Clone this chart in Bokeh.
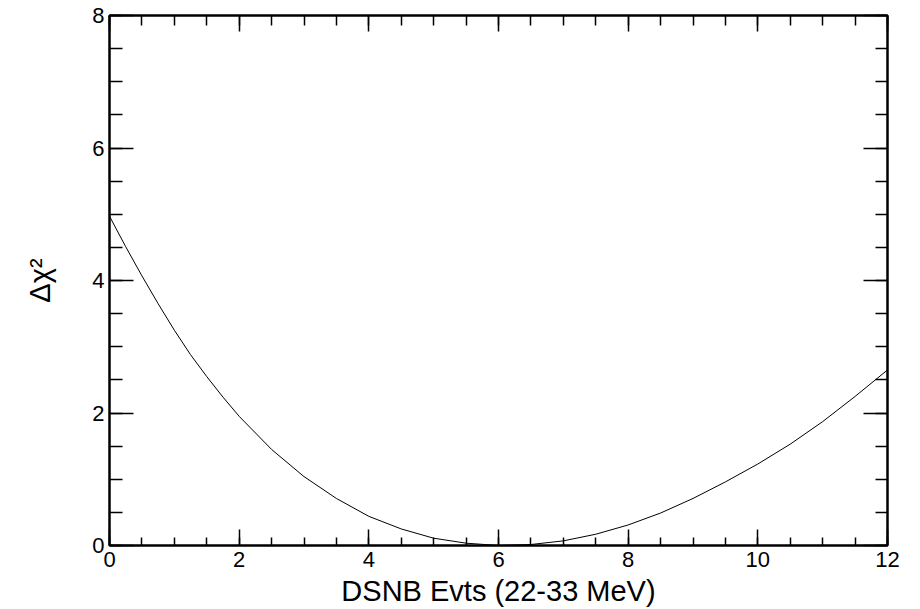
from bokeh.plotting import figure
from bokeh.models import Range1d, LinearAxis, FixedTicker
from bokeh.embed import file_html
from bokeh.resources import INLINE

# Data
dsnb_events = [0.0, 0.25, 0.5, 0.75, 1.0, 1.25, 1.5, 1.75, 2.0, 2.5, 3.0, 3.5, 4.0,
               4.5, 5.0, 5.5, 6.0, 6.5, 7.0, 7.5, 8.0, 8.5, 9.0, 9.5, 10.0, 10.5,
               11.0, 11.5, 12.0]
delta_chi2 = [4.97, 4.51, 4.07, 3.65, 3.25, 2.88, 2.55, 2.24, 1.95, 1.45, 1.04, 0.71, 0.44,
              0.25, 0.11, 0.035, 0.0, 0.015, 0.07, 0.17, 0.31, 0.49, 0.71, 0.96, 1.23, 1.53,
              1.87, 2.25, 2.65]

x_major = [0, 2, 4, 6, 8, 10, 12]
x_minor = [i * 0.5 for i in range(25)]
y_major = [0, 2, 4, 6, 8]
y_minor = [i * 0.5 for i in range(17)]

FONT = "Liberation Sans"

p = figure(width=920, height=609, output_backend="svg", toolbar_location=None,
           x_range=Range1d(0, 12), y_range=Range1d(0, 8),
           min_border_left=109, min_border_right=33, min_border_top=15,
           min_border_bottom=63, x_axis_location=None, y_axis_location=None)
p.grid.visible = False
p.outline_line_color = "black"
p.outline_line_width = 2
p.background_fill_color = "white"
p.border_fill_color = "white"

p.line(dsnb_events, delta_chi2, line_color="black", line_width=1.0)


def style_axis(ax, major_len, minor_len, show_labels, ticks, minor):
    ax.ticker = FixedTicker(ticks=ticks, minor_ticks=minor)
    ax.axis_line_color = "black"
    ax.axis_line_width = 2
    ax.major_tick_in = major_len
    ax.major_tick_out = 0
    ax.minor_tick_in = minor_len
    ax.minor_tick_out = 0
    ax.major_tick_line_color = "black"
    ax.minor_tick_line_color = "black"
    ax.major_tick_line_width = 1.5
    ax.minor_tick_line_width = 1.5
    ax.major_label_text_font = FONT
    ax.major_label_text_font_size = "22px"
    ax.major_label_text_color = "black"
    ax.axis_label_text_font = FONT
    ax.axis_label_text_font_style = "normal"
    ax.axis_label_text_font_size = "29px"
    ax.axis_label_text_color = "black"
    if not show_labels:
        ax.major_label_text_alpha = 0
        ax.major_label_text_font_size = "1px"


xb = LinearAxis(axis_label="DSNB Evts (22-33 MeV)")
style_axis(xb, 16, 8, True, x_major, x_minor)
xb.major_label_standoff = 6
xb.axis_label_standoff = 5
p.add_layout(xb, "below")

xt = LinearAxis()
style_axis(xt, 16, 10, False, x_major, x_minor)
p.add_layout(xt, "above")

yl = LinearAxis(axis_label="Δχ²")
style_axis(yl, 24, 13, True, y_major, y_minor)
yl.major_label_standoff = 5
yl.axis_label_standoff = 33
p.add_layout(yl, "left")

yr = LinearAxis()
style_axis(yr, 24, 12, False, y_major, y_minor)
p.add_layout(yr, "right")

open("out.html", "w").write(file_html(p, INLINE))
